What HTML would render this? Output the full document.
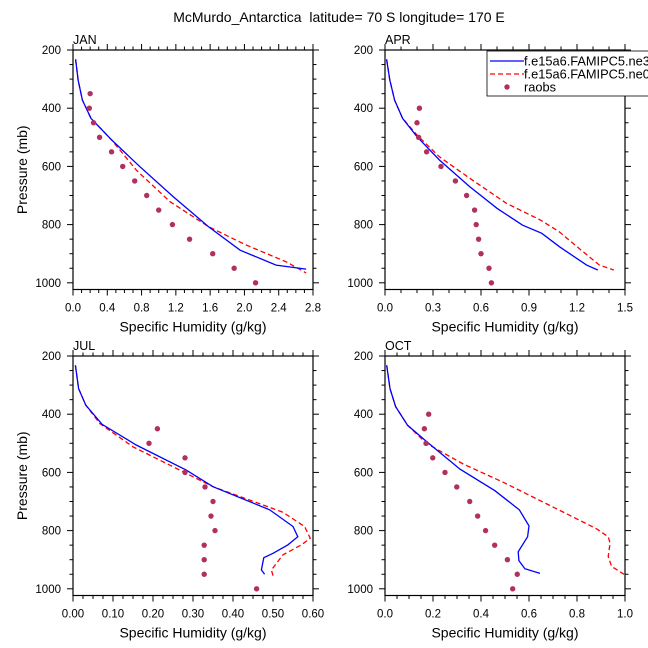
<!DOCTYPE html>
<html><head><meta charset="utf-8">
<style>
html,body{margin:0;padding:0;background:#fff;}
svg{display:block;font-family:"Liberation Sans",sans-serif;}
</style></head>
<body>
<svg id="chart" width="648" height="648" viewBox="0 0 648 648" xmlns="http://www.w3.org/2000/svg">
<text x="339" y="22" font-size="14" text-anchor="middle">McMurdo_Antarctica&#160; latitude= 70 S longitude= 170 E</text>
</svg>
<script>
const janBlueQ=[0.03,0.06,0.11,0.21,0.45,0.78,1.17,1.58,1.95,2.37,2.72];
const janBlueP=[232,303,372,435,509,601,704,807,888,939,953];
const janRedQ=[0.03,0.06,0.11,0.21,0.45,0.74,1.13,1.58,2.02,2.49,2.72];
const janRedP=[232,303,372,435,509,613,721,807,870,928,966];
const janObsQ=[0.20,0.19,0.24,0.31,0.45,0.58,0.72,0.86,1.00,1.16,1.36,1.63,1.88,2.13];
const janObsP=[350,400,450,500,550,600,650,700,750,800,850,900,950,1000];
const aprBlueQ=[0.01,0.03,0.06,0.11,0.20,0.34,0.53,0.70,0.86,0.98,1.09,1.26,1.33];
const aprBlueP=[232,303,372,435,498,578,670,744,802,830,876,939,956];
const aprRedQ=[0.01,0.03,0.06,0.11,0.20,0.34,0.53,0.76,0.97,1.09,1.20,1.34,1.43];
const aprRedP=[232,303,372,435,492,567,641,727,784,825,876,939,956];
const aprObsQ=[0.215,0.20,0.21,0.26,0.35,0.44,0.51,0.56,0.57,0.585,0.60,0.65,0.665];
const aprObsP=[400,450,500,550,600,650,700,750,800,850,900,950,1000];
const julBlueQ=[0.006,0.014,0.032,0.073,0.158,0.283,0.35,0.492,0.55,0.562,0.537,0.50,0.477,0.471,0.479];
const julBlueP=[232,312,369,435,506,592,649,729,786,821,849,878,893,935,950];
const julRedQ=[0.006,0.014,0.032,0.067,0.15,0.283,0.35,0.525,0.579,0.593,0.571,0.525,0.496,0.50];
const julRedP=[232,312,369,432,512,603,649,737,786,826,849,883,935,955];
const julObsQ=[0.211,0.19,0.28,0.28,0.33,0.35,0.345,0.355,0.328,0.328,0.328,0.459];
const julObsP=[450,500,550,600,650,700,750,800,850,900,950,1000];
const octBlueQ=[0.007,0.021,0.044,0.094,0.174,0.313,0.458,0.56,0.60,0.594,0.555,0.558,0.583,0.646];
const octBlueP=[232,312,374,438,495,589,663,729,784,821,873,903,931,947];
const octRedQ=[0.007,0.021,0.044,0.094,0.174,0.326,0.493,0.729,0.882,0.93,0.938,0.93,0.944,0.996];
const octRedP=[232,312,374,438,501,571,634,731,794,821,843,889,923,950];
const octObsQ=[0.182,0.164,0.171,0.199,0.25,0.299,0.353,0.386,0.419,0.457,0.51,0.551,0.532];
const octObsP=[400,450,500,550,600,650,700,750,800,850,900,950,1000];
const janXTicks=["0.0","0.4","0.8","1.2","1.6","2.0","2.4","2.8"];
const aprXTicks=["0.0","0.3","0.6","0.9","1.2","1.5"];
const julXTicks=["0.00","0.10","0.20","0.30","0.40","0.50","0.60"];
const octXTicks=["0.0","0.2","0.4","0.6","0.8","1.0"];
const yTicks=[200,400,600,800,1000];
const legendLabels=["f.e15a6.FAMIPC5.ne30","f.e15a6.FAMIPC5.ne0","raobs"];

const NS="http://www.w3.org/2000/svg";
const svg=document.getElementById('chart');
function mk(tag,attrs,parent){const e=document.createElementNS(NS,tag);for(const k in attrs)e.setAttribute(k,attrs[k]);(parent||svg).appendChild(e);return e;}

const panels=[
 {name:'jan',label:'JAN',L:73,T:50,xmax:2.8,minor:0.1,ticks:janXTicks,major:0.4,b:[janBlueQ,janBlueP],r:[janRedQ,janRedP],o:[janObsQ,janObsP],ytitle:true},
 {name:'apr',label:'APR',L:385,T:50,xmax:1.5,minor:0.1,ticks:aprXTicks,major:0.3,b:[aprBlueQ,aprBlueP],r:[aprRedQ,aprRedP],o:[aprObsQ,aprObsP],ytitle:false},
 {name:'jul',label:'JUL',L:73,T:356,xmax:0.6,minor:0.025,ticks:julXTicks,major:0.1,b:[julBlueQ,julBlueP],r:[julRedQ,julRedP],o:[julObsQ,julObsP],ytitle:true},
 {name:'oct',label:'OCT',L:385,T:356,xmax:1.0,minor:0.05,ticks:octXTicks,major:0.2,b:[octBlueQ,octBlueP],r:[octRedQ,octRedP],o:[octObsQ,octObsP],ytitle:false}
];
const W=240,H=239.5,PMIN=200,PMAX=1023;

panels.forEach(p=>{
 const g=mk('g',{});
 
 
 const xs=v=>p.L+v/p.xmax*W;
 const ys=v=>p.T+(v-PMIN)/(PMAX-PMIN)*H;
 const B=p.T+H,R=p.L+W;
 const tk=mk('g',{stroke:'#000','stroke-width':1},g);
 
 
 const nmin=Math.round(p.xmax/p.minor);
 for(let i=0;i<=nmin;i++){
  const v=i*p.minor,x=xs(v);
  const isMaj=Math.abs(v/p.major-Math.round(v/p.major))<1e-6;
  const len=isMaj?6:3.5;
  mk('line',{x1:x,x2:x,y1:B,y2:B+len},tk);
  mk('line',{x1:x,x2:x,y1:p.T,y2:p.T-len},tk);
 }
 for(let v=200;v<=1000;v+=50){
  const y=ys(v),len=(v%200===0)?6:3.5;
  mk('line',{x1:p.L,x2:p.L-len,y1:y,y2:y},tk);
  mk('line',{x1:R,x2:R+len,y1:y,y2:y},tk);
 }
 const fr=mk('rect',{x:p.L,y:p.T,width:W,height:H,fill:'none',stroke:'#000','stroke-width':1.2},g);
 
 
 p.ticks.forEach((t,i)=>{
  const e=mk('text',{x:xs(i*p.major),y:B+22,'font-size':11.5,'text-anchor':'middle'},g);
  
  
  e.textContent=t;
 });
 yTicks.forEach(t=>{
  const e=mk('text',{x:p.L-12,y:ys(t)+4,'font-size':11.5,'text-anchor':'end'},g);
  
  
  e.textContent=t;
 });
 const lb=mk('text',{x:p.L,y:p.T-6,'font-size':12.5},g);
 
 
 lb.textContent=p.label;
 const xt=mk('text',{x:p.L+W/2,y:B+42,'font-size':14,'text-anchor':'middle'},g);
 
 
 xt.textContent='Specific Humidity (g/kg)';
 if(p.ytitle){
  const yt=mk('text',{x:0,y:0,'font-size':14,'text-anchor':'middle',transform:`translate(27,${p.T+H/2}) rotate(-90)`},g);
  
  
  yt.textContent='Pressure (mb)';
 }
 const path=(q,pp)=>q.map((v,i)=>(i?'L':'M')+xs(v).toFixed(1)+','+ys(pp[i]).toFixed(1)).join(' ');
 const rl=mk('path',{d:path(p.r[0],p.r[1]),fill:'none',stroke:'#ff0000','stroke-width':1.3,'stroke-dasharray':'5,3'},g);
 
 
 const bl=mk('path',{d:path(p.b[0],p.b[1]),fill:'none',stroke:'#0000ff','stroke-width':1.3},g);
 
 
 p.o[0].forEach((v,i)=>{
  const c=mk('circle',{cx:xs(v),cy:ys(p.o[1][i]),r:2.7,fill:'#b03060'},g);
  
  
 });
});

const lg=mk('g',{});


mk('rect',{x:487,y:51,width:170,height:45,fill:'#fff',stroke:'#000','stroke-width':0.8},lg);
const l1=mk('line',{x1:490,x2:524,y1:61,y2:61,stroke:'#0000ff','stroke-width':1.3},lg);


const l2=mk('line',{x1:490,x2:524,y1:74,y2:74,stroke:'#ff0000','stroke-width':1.3,'stroke-dasharray':'5,3'},lg);


const l3=mk('circle',{cx:507,cy:87,r:2.7,fill:'#b03060'},lg);


[65.5,78.5,91.5].forEach((y,i)=>{
 const t=mk('text',{x:524,y:y,'font-size':12.8},lg);
 
 
 t.textContent=legendLabels[i];
});
</script>
</body></html>
